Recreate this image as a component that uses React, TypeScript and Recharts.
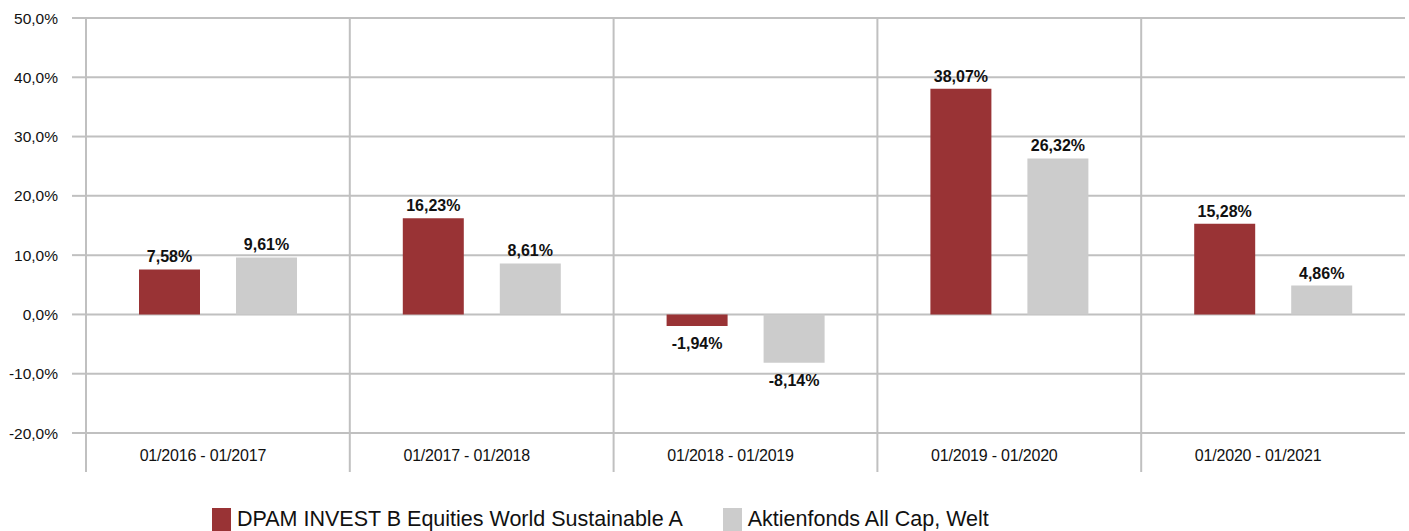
import React from 'react';
import { BarChart, Bar, XAxis, YAxis, CartesianGrid, LabelList } from 'recharts';

const periods = ['01/2016 - 01/2017', '01/2017 - 01/2018', '01/2018 - 01/2019', '01/2019 - 01/2020', '01/2020 - 01/2021'];
const fundValues = [7.58, 16.23, -1.94, 38.07, 15.28];
const peerValues = [9.61, 8.61, -8.14, 26.32, 4.86];
const yTicks = [-20, -10, 0, 10, 20, 30, 40, 50];

const FUND_NAME = 'DPAM INVEST B Equities World Sustainable A';
const PEER_NAME = 'Aktienfonds All Cap, Welt';
const RED = '#993335';
const GREY = '#cccccc';
const GRID = '#c0c0c0';
const FONT = '"Liberation Sans", Arial, sans-serif';

const CHART_W = 1409;
const CHART_H = 472;
const Y_AXIS_W = 86;
const MARGIN = { top: 18, right: 4, left: 0, bottom: 0 };
const X_AXIS_H = 39;
const PLOT_H = CHART_H - MARGIN.top - MARGIN.bottom - X_AXIS_H;
const CAT_W = (CHART_W - MARGIN.left - MARGIN.right - Y_AXIS_W) / periods.length;

const data = periods.map((p, i) => ({ period: p, fund: fundValues[i], peer: peerValues[i] }));

const fmtPct = (v: number, digits: number) => `${v.toFixed(digits).replace('.', ',')}%`;

// category labels sit a bit left of the band centre in the original
const PeriodTick = (props: any) => {
  const { x, y, payload } = props;
  const left = x - CAT_W / 2;
  return (
    <g>
      <line x1={left} x2={left} y1={y - PLOT_H} y2={y + X_AXIS_H} stroke={GRID} strokeWidth={2} />
      <text x={x - 15} y={y + 28} textAnchor="middle" fontSize={16} fontFamily={FONT} fill="#111" letterSpacing={-0.2}>
        {payload.value}
      </text>
    </g>
  );
};

const ValueLabel = (props: any) => {
  const { x, y, width, height, value } = props;
  const cx = x + width / 2;
  const top = Math.min(y, y + height);
  const bottom = Math.max(y, y + height);
  const ty = value < 0 ? bottom + 23 : top - 7;
  return (
    <text x={cx} y={ty} textAnchor="middle" fontSize={16} fontWeight="bold" fontFamily={FONT} fill="#111">
      {fmtPct(value, 2)}
    </text>
  );
};

const LegendItem = ({ color, label }: { color: string; label: string }) => (
  <div style={{ display: 'flex', alignItems: 'flex-start' }}>
    <div style={{ width: 19, height: 26, background: color, marginRight: 6 }} />
    <span style={{ fontSize: 21.5, lineHeight: '22px', color: '#111' }}>{label}</span>
  </div>
);

export default function App() {
  return (
    <div style={{ position: 'absolute', left: 0, top: 0, width: CHART_W, height: 531, background: '#fff', fontFamily: FONT, overflow: 'hidden' }}>
      <BarChart width={CHART_W} height={CHART_H} data={data} margin={MARGIN} barSize={61} barGap={36}>
        <CartesianGrid vertical={false} stroke={GRID} strokeWidth={2} />
        <XAxis
          dataKey="period"
          height={X_AXIS_H}
          axisLine={false}
          tickLine={false}
          tickSize={0}
          tickMargin={0}
          interval={0}
          tick={<PeriodTick />}
        />
        <YAxis
          width={Y_AXIS_W}
          domain={[-20, 50]}
          ticks={yTicks}
          interval={0}
          axisLine={false}
          tickLine={{ stroke: GRID, strokeWidth: 2 }}
          tickSize={14}
          tickMargin={14}
          tickFormatter={(v: number) => fmtPct(v, 1)}
          tick={{ fontSize: 15.5, fontFamily: FONT, fill: '#111' }}
        />
        <Bar dataKey="fund" name={FUND_NAME} fill={RED} isAnimationActive={false}>
          <LabelList dataKey="fund" content={<ValueLabel />} />
        </Bar>
        <Bar dataKey="peer" name={PEER_NAME} fill={GREY} isAnimationActive={false}>
          <LabelList dataKey="peer" content={<ValueLabel />} />
        </Bar>
      </BarChart>
      <div style={{ position: 'absolute', left: 212, top: 508, display: 'flex', gap: 40 }}>
        <LegendItem color={RED} label={FUND_NAME} />
        <LegendItem color={GREY} label={PEER_NAME} />
      </div>
    </div>
  );
}
